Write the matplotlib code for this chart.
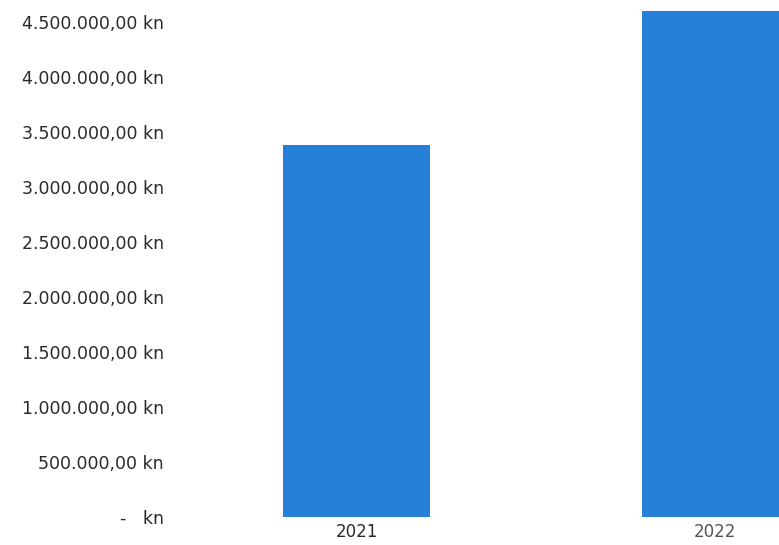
import matplotlib.pyplot as plt
from matplotlib.ticker import FuncFormatter

# Values
years = ["2021", "2022"]
amounts = [3380000, 4600000]
ticks = [0, 500000, 1000000, 1500000, 2000000, 2500000, 3000000, 3500000, 4000000, 4500000]


def kn(v, pos=None):
    if v == 0:
        return "-   kn"
    s = f"{v:,.2f}"
    s = s.replace(",", "X").replace(".", ",").replace("X", ".")
    return s + " kn"


fig = plt.figure(figsize=(7.79, 5.45), dpi=100)
W, H = 779, 545
left, right, top, bottom = 175, 779, 0, 517
ax = fig.add_axes([left / W, (H - bottom) / H, (right - left) / W, (bottom - top) / H])

x = list(range(len(years)))
ax.bar(x, amounts, width=0.41, color="#2680d8")

ax.set_xlim(-0.508, 1.179)
ax.set_ylim(0, 4700000)
ax.set_yticks(ticks)
ax.yaxis.set_major_formatter(FuncFormatter(kn))
ax.set_xticks(x)
ax.set_xticklabels(years)

for s in ax.spines.values():
    s.set_visible(False)
ax.tick_params(axis="both", length=0, labelcolor="#2a2a2a")
ax.tick_params(axis="y", pad=8, labelsize=12.5)
ax.tick_params(axis="x", pad=4, labelsize=12)
ax.get_xticklabels()[1].set_color("#555555")

plt.savefig("out.png", dpi=100)
